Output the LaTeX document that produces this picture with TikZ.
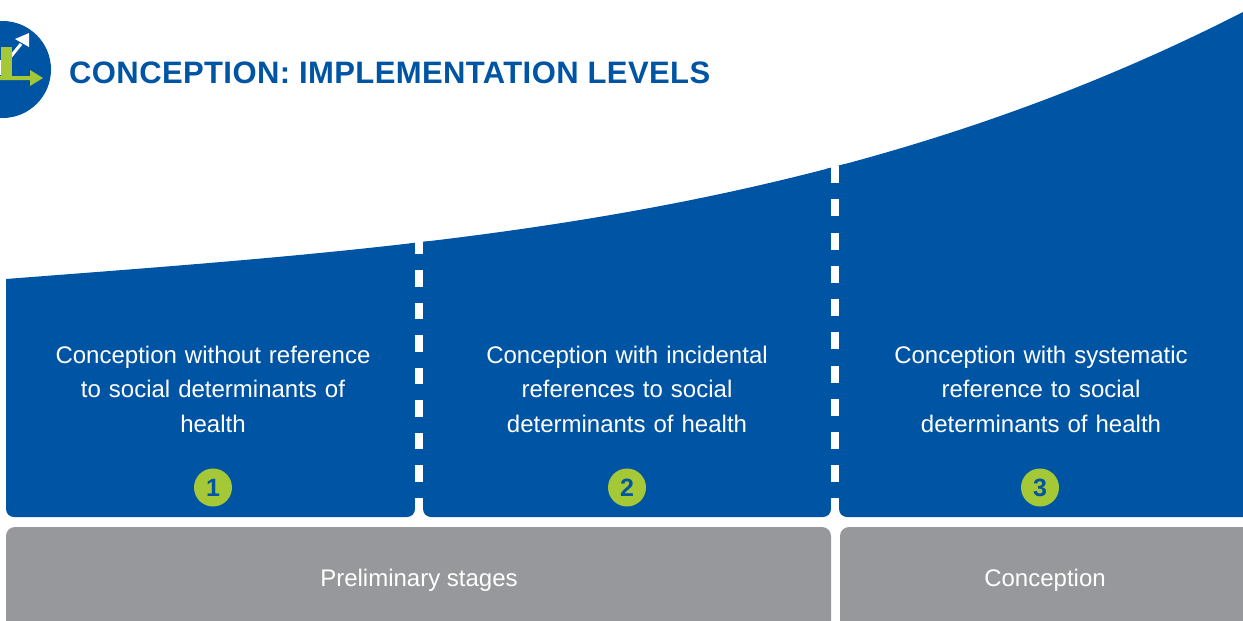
\documentclass[tikz,border=0pt]{standalone}
\usepackage{fontspec}
\setmainfont{Liberation Sans}
\definecolor{bluemain}{HTML}{0054A4}
\definecolor{graymain}{HTML}{97989B}
\definecolor{greenmain}{HTML}{A5C936}
\tikzset{
  paneltext/.style={text=white,align=center,font=\fontsize{24}{34.5}\selectfont,text width=380pt,inner sep=0pt},
  graytext/.style={text=white,font=\fontsize{24}{28}\selectfont,inner sep=0pt},
  numdot/.style={circle,fill=greenmain,minimum size=38pt,inner sep=0pt,text=bluemain,font=\fontsize{25}{28}\bfseries\selectfont},
  panelfill/.style={fill=bluemain,rounded corners=8pt},
  grayfill/.style={fill=graymain,rounded corners=9pt},
  dashline/.style={fill=white}
}
\begin{document}
\begin{tikzpicture}[x=1pt,y=-1pt]
\useasboundingbox (0,0) rectangle (1243,621);
% blue area below the curve
\begin{scope}
\clip (6,279) .. controls (418,247) and (830,223) .. (1243,12) -- (1260,12) -- (1260,530) -- (6,530) -- cycle;
\fill[panelfill] (6,0) rectangle (415,517);
\fill[panelfill] (423,0) rectangle (831,517);
\fill[panelfill] (839,0) rectangle (1270,517);
\fill[bluemain] (410,0) rectangle (428,498);
\fill[bluemain] (826,0) rectangle (844,498);
\end{scope}
% dashes
\foreach \k in {0,...,7}{
  \fill[dashline] (415,{237.5+32.5*\k}) rectangle (423,{254+32.5*\k});
}
\foreach \k in {0,...,9}{
  \fill[dashline] (831,{166+33.25*\k}) rectangle (839,{183+33.25*\k});
}
\fill[dashline] (415,498) rectangle (423,518);
\fill[dashline] (831,499) rectangle (839,518);
% gray bars
\fill[grayfill] (6,527) rectangle (831,640);
\fill[grayfill] (840,527) rectangle (1270,640);
% icon
\fill[bluemain] (2.5,69.5) circle (48.5);
\fill[white] (0,60) rectangle (2,75);
\draw[white,line width=3pt] (8,60) -- (21,44);
\fill[white] (29,33) -- (15,39) -- (29,47) -- cycle;
\fill[greenmain] (1,47) rectangle (12,77);
\fill[greenmain] (0,76) -- (30,76) -- (30,70) -- (43,78) -- (30,86) -- (30,80) -- (0,80) -- cycle;
% texts
\node[anchor=west,inner sep=0pt,text=bluemain,font=\fontsize{31}{36}\bfseries\selectfont\addfontfeature{LetterSpace=1.27}] (title) at (69,72.5) {CONCEPTION: IMPLEMENTATION LEVELS};
\node[paneltext] (p1) at (213,389) {Conception without reference\\to social determinants of\\health};
\node[paneltext] (p2) at (627,389) {Conception with incidental\\references to social\\determinants of health};
\node[paneltext] (p3) at (1041,389) {Conception with systematic\\reference to social\\determinants of health};
\node[numdot] (n1) at (213,487.5) {1};
\node[numdot] (n2) at (627,487.5) {2};
\node[numdot] (n3) at (1040,487.5) {3};
\node[graytext] (g1) at (419,580) {Preliminary stages};
\node[graytext] (g2) at (1045,580) {Conception};
\end{tikzpicture}
\end{document}
